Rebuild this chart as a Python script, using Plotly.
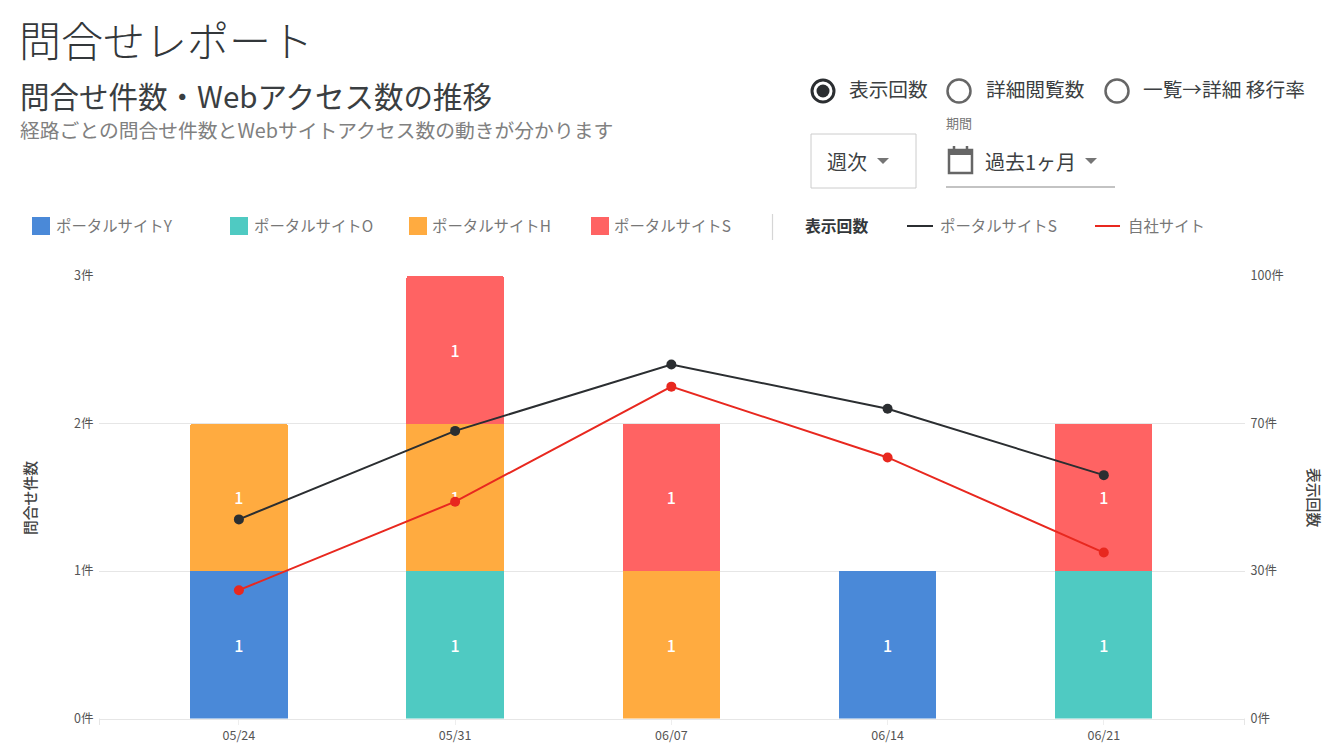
import plotly.graph_objects as go

W, H = 1344, 756
FONT = "Noto Sans CJK JP"

# Chart data
weeks = ["05/24", "05/31", "06/07", "06/14", "06/21"]
portal_y = [1, None, None, 1, None]
portal_o = [None, 1, None, None, 1]
portal_h = [1, 1, 1, None, None]
portal_s = [None, 1, 1, None, 1]
views_portal_s = [45, 65, 80, 70, 55]
views_own_site = [29, 49, 75, 59, 37.5]

left_ticks = [0, 1, 2, 3]
left_labels = ["0件", "1件", "2件", "3件"]
right_ticks = [0, 100 / 3, 200 / 3, 100]
right_labels = ["0件", "30件", "70件", "100件"]

BLUE, TEAL, ORANGE, RED = "#4a89d8", "#4fcac2", "#ffab40", "#ff6363"
INK, LINE_RED = "#2b2e31", "#e8281f"
GRID = "#e6e6e6"


def px(x):
    return x / W


def py(y):
    return 1 - y / H


fig = go.Figure()

for name, values, color in [
    ("ポータルサイトY", portal_y, BLUE),
    ("ポータルサイトO", portal_o, TEAL),
    ("ポータルサイトH", portal_h, ORANGE),
    ("ポータルサイトS", portal_s, RED),
]:
    fig.add_trace(go.Bar(
        x=weeks, y=values, name=name, marker=dict(color=color, line_width=0),
        text=values, textposition="inside", insidetextanchor="middle", textangle=0,
        insidetextfont=dict(color="white", size=16, family=FONT, weight=500),
        yaxis="y",
    ))

for name, values, color in [
    ("ポータルサイトS", views_portal_s, INK),
    ("自社サイト", views_own_site, LINE_RED),
]:
    fig.add_trace(go.Scatter(
        x=weeks, y=values, name=name, mode="lines+markers", yaxis="y2",
        line=dict(color=color, width=2), marker=dict(color=color, size=10),
    ))


def text(x, y, s, size, color, anchor="left", weight=400, angle=0):
    return dict(
        x=px(x), y=py(y), xref="paper", yref="paper", text=s, showarrow=False,
        xanchor=anchor, yanchor="middle", textangle=angle, borderpad=0, borderwidth=0,
        font=dict(family=FONT, size=size, color=color, weight=weight),
    )


def circle(cx, cy, r, **kw):
    return dict(type="circle", xref="paper", yref="paper",
                x0=px(cx - r), x1=px(cx + r), y0=py(cy + r), y1=py(cy - r), **kw)


def rect(x0, y0, x1, y1, **kw):
    return dict(type="rect", xref="paper", yref="paper",
                x0=px(x0), x1=px(x1), y0=py(y1), y1=py(y0), **kw)


def seg(x0, y0, x1, y1, color, width):
    return dict(type="line", xref="paper", yref="paper",
                x0=px(x0), x1=px(x1), y0=py(y0), y1=py(y1),
                line=dict(color=color, width=width))


def caret(cx, cy, color="#757575"):
    pts = [(cx - 6, cy - 3), (cx + 6, cy - 3), (cx, cy + 3)]
    path = "M " + " L ".join(f"{px(a):.5f},{py(b):.5f}" for a, b in pts) + " Z"
    return dict(type="path", xref="paper", yref="paper", path=path,
                fillcolor=color, line_width=0)


annotations = [
    text(19, 38.5, "問合せレポート", 42, "#33373a", weight=300),
    text(19.5, 95, "問合せ件数・Webアクセス数の推移", 29.5, "#3a3e41"),
    text(19.5, 129, "経路ごとの問合せ件数とWebサイトアクセス数の動きが分かります", 19.8, "#808080"),
    # view selector and period controls
    text(849, 89, "表示回数", 19.7, "#3c3f42"),
    text(986, 89, "詳細閲覧数", 19.7, "#3c3f42"),
    text(1143, 89, "一覧→詳細 移行率", 19.7, "#3c3f42"),
    text(827, 161, "週次", 20, "#3c3f42"),
    text(946, 123, "期間", 13, "#777777"),
    text(985, 161, "過去1ヶ月", 20, "#3c3f42"),
    # legend row
    text(56, 225.5, "ポータルサイトY", 15.4, "#777777"),
    text(254, 225.5, "ポータルサイトO", 15.4, "#777777"),
    text(432, 225.5, "ポータルサイトH", 15.4, "#777777"),
    text(614, 225.5, "ポータルサイトS", 15.4, "#777777"),
    text(805, 225.5, "表示回数", 15.8, "#33373a", weight=700),
    text(940, 225.5, "ポータルサイトS", 15.4, "#777777"),
    text(1128, 225.5, "自社サイト", 15.4, "#777777"),
    # axis titles
    text(29, 498, "問合せ件数", 14.8, "#444444", anchor="center", angle=-90, weight=500),
    text(1315, 497, "表示回数", 14.8, "#444444", anchor="center", angle=90, weight=500),
]

shapes = [
    circle(823, 91, 11, line=dict(color=INK, width=3), fillcolor="white"),
    circle(823, 91, 6.5, line_width=0, fillcolor=INK),
    circle(959, 91, 11.5, line=dict(color="#666666", width=2.5), fillcolor="white"),
    circle(1117, 91, 11.5, line=dict(color="#666666", width=2.5), fillcolor="white"),
    rect(811, 134, 916, 188, line=dict(color="#cccccc", width=1)),
    caret(883, 161),
    caret(1091, 161),
    seg(946, 187, 1115, 187, "#888888", 1.2),
    # calendar icon
    rect(949, 150, 972, 173, line=dict(color="#666666", width=2.5)),
    rect(949, 150, 972, 155, fillcolor="#666666", line_width=0),
    seg(954, 146, 954, 151, "#666666", 2.5),
    seg(967, 146, 967, 151, "#666666", 2.5),
    # legend swatches and keys
    rect(32, 217, 50, 235, fillcolor=BLUE, line_width=0),
    rect(230, 217, 248, 235, fillcolor=TEAL, line_width=0),
    rect(409, 217, 427, 235, fillcolor=ORANGE, line_width=0),
    rect(591, 217, 609, 235, fillcolor=RED, line_width=0),
    seg(772.5, 214, 772.5, 240, "#d6d6d6", 1.2),
    seg(907, 226, 933, 226, INK, 2),
    seg(1095, 226, 1120, 226, LINE_RED, 2),
    # small end caps on the category axis
    seg(99.5, 718.5, 99.5, 725, GRID, 1),
    seg(1244.5, 718.5, 1244.5, 725, GRID, 1),
]

fig.update_layout(
    width=W, height=H, margin=dict(l=0, r=0, t=0, b=0, autoexpand=False),
    paper_bgcolor="white", plot_bgcolor="white",
    font=dict(family=FONT, color="#555555", size=12),
    barmode="stack", bargap=0.55, barcornerradius=2, showlegend=False,
    xaxis=dict(
        domain=[px(99), px(1245)], type="category", range=[-0.647, 4.653],
        showgrid=False, showline=True, linecolor=GRID, linewidth=1,
        ticks="outside", ticklen=5, tickcolor="#eeeeee",
        tickfont=dict(size=12.5, color="#555555"),
    ),
    yaxis=dict(
        domain=[py(718.5), py(276)], range=[0, 3], tickvals=left_ticks, ticktext=left_labels,
        showgrid=True, gridcolor=GRID, gridwidth=1, zeroline=False, showline=False,
        ticks="outside", ticklen=2, tickcolor="rgba(0,0,0,0)",
        tickfont=dict(size=12.5, color="#555555"),
    ),
    yaxis2=dict(
        domain=[py(718.5), py(276)], range=[0, 100], overlaying="y", side="right",
        tickvals=right_ticks, ticktext=right_labels, showgrid=False, zeroline=False,
        showline=False, ticks="outside", ticklen=2, tickcolor="rgba(0,0,0,0)",
        tickfont=dict(size=12.5, color="#555555"),
    ),
    annotations=annotations, shapes=shapes,
)

fig.write_html("out.html")
